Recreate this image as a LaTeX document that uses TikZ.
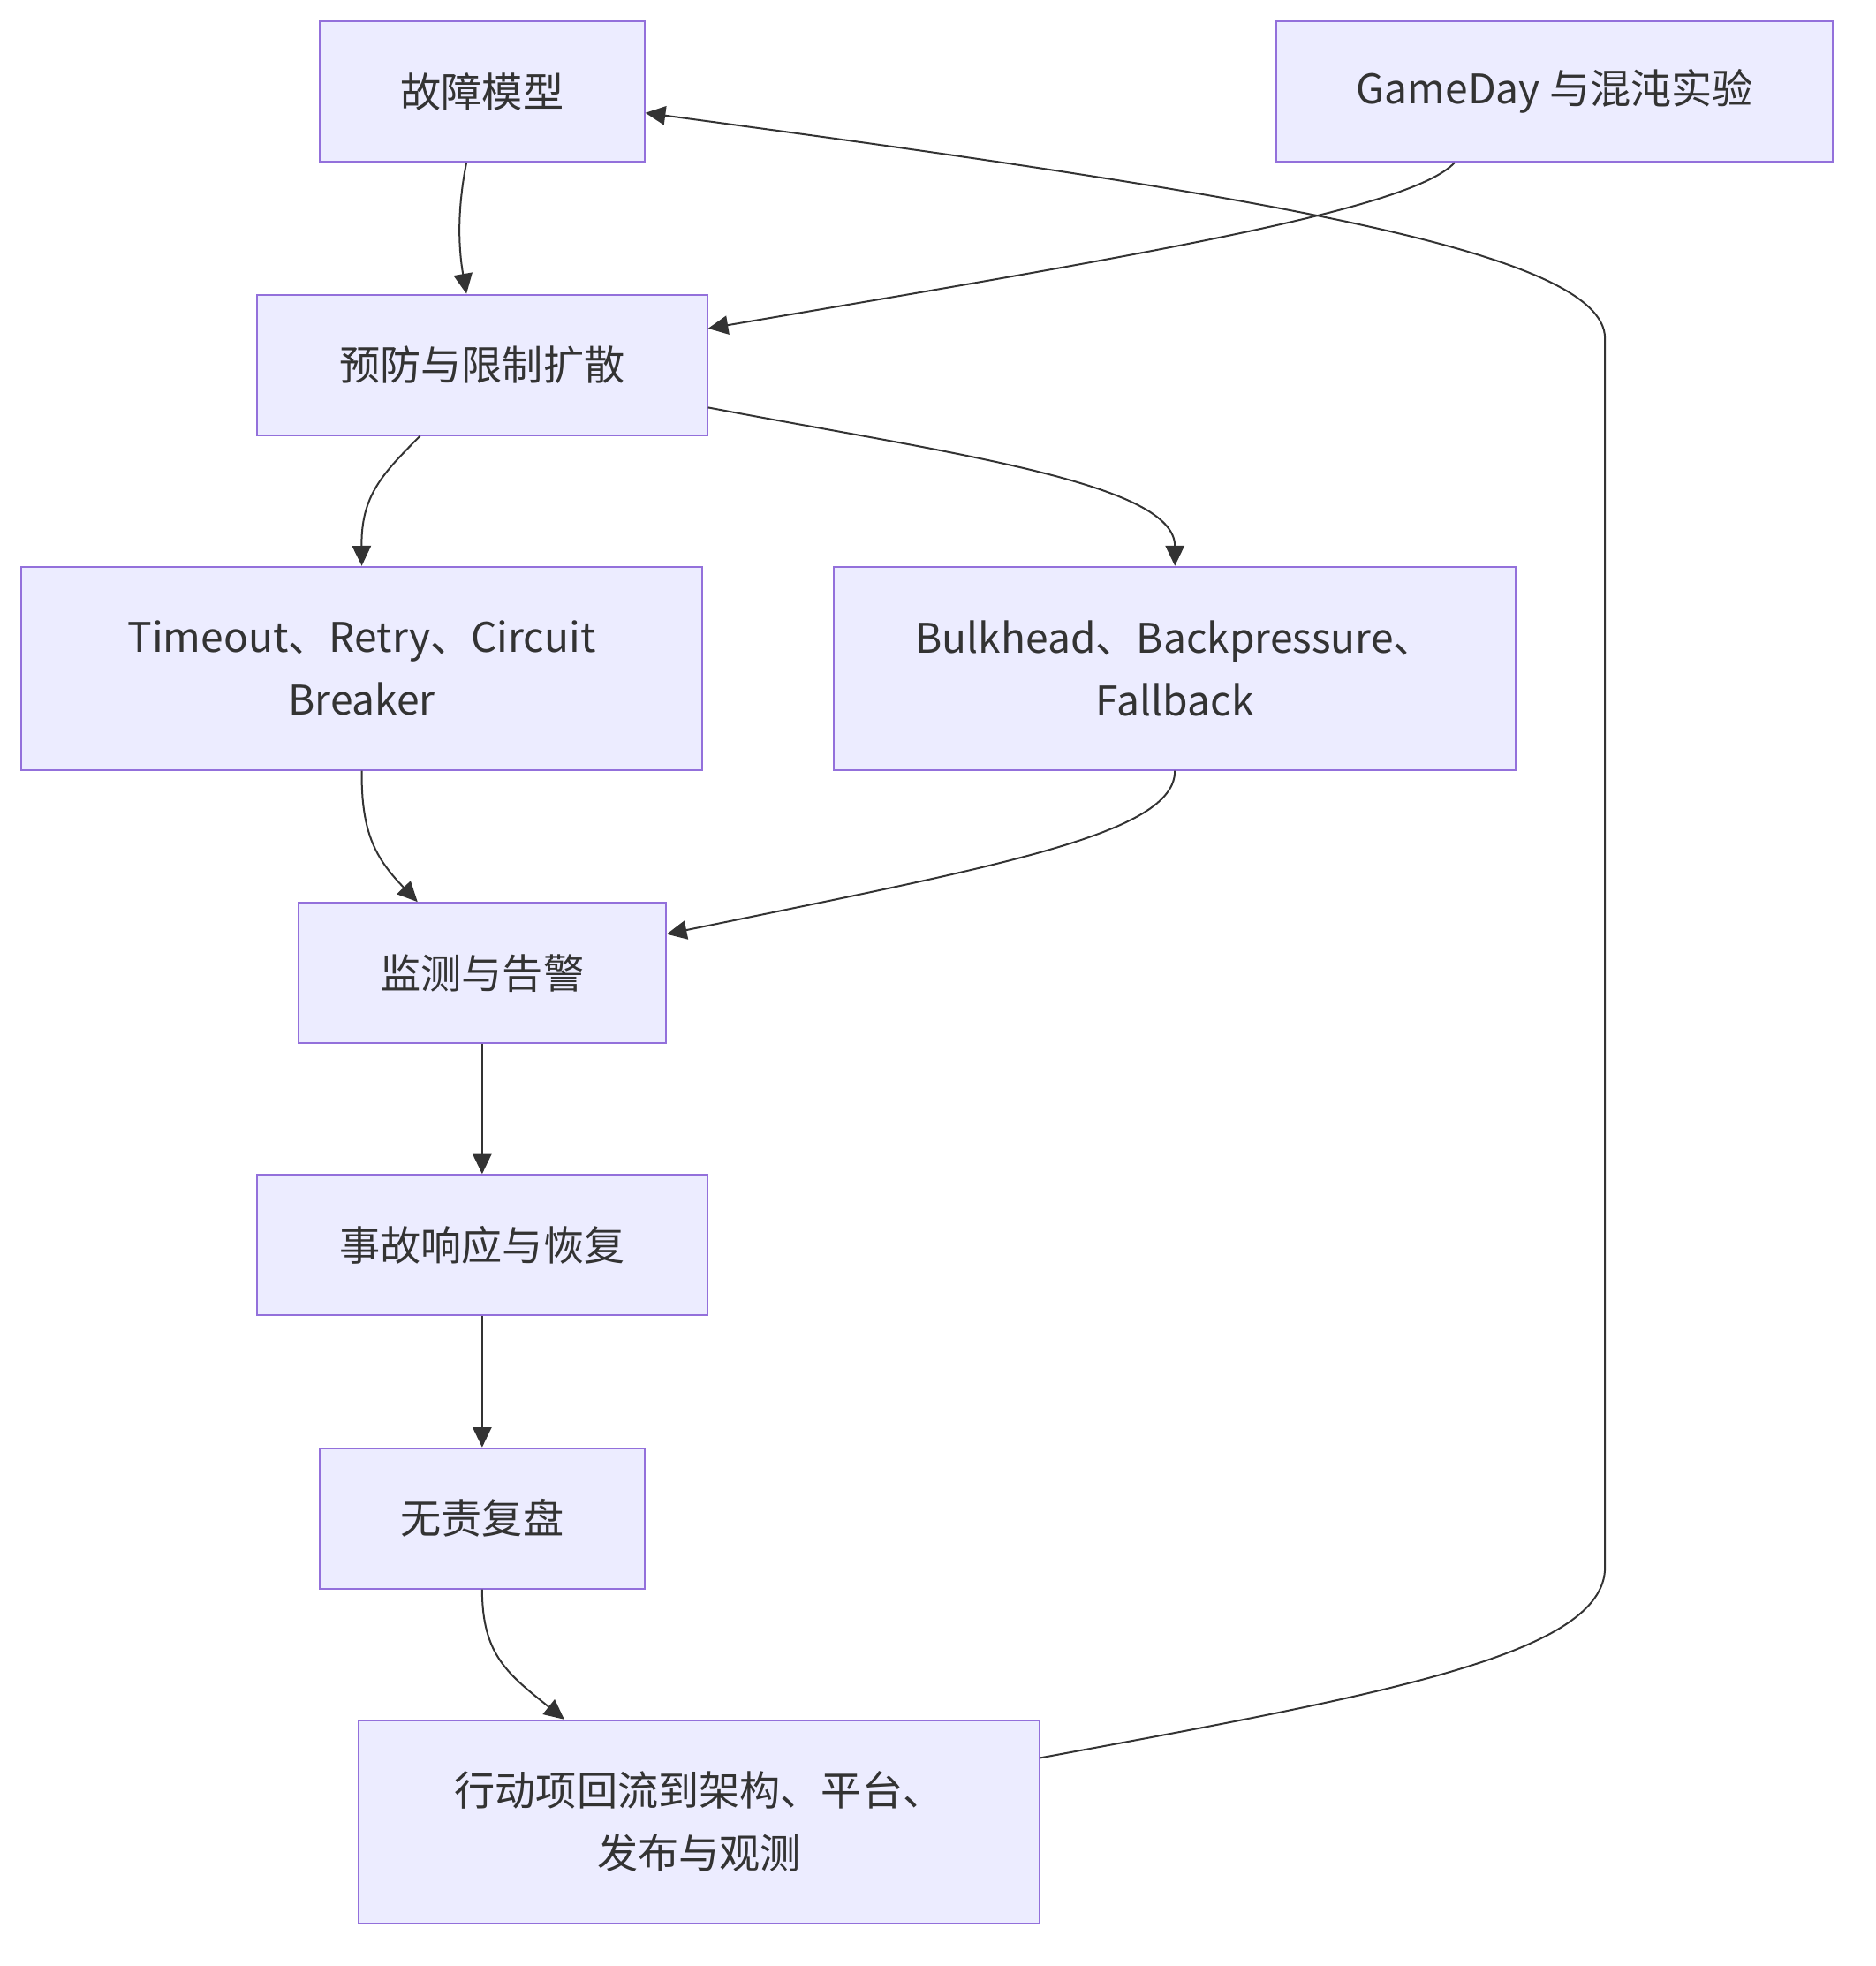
\documentclass[tikz,border=0pt]{standalone}
\usepackage{fontspec}
\setmainfont{Noto Sans CJK SC}
\usetikzlibrary{arrows.meta}
\definecolor{boxfill}{HTML}{ECECFF}
\definecolor{boxline}{HTML}{9370DB}
\definecolor{ink}{HTML}{333333}

\begin{document}
\begin{tikzpicture}[
  x=0.02cm, y=-0.02cm,
  font=\fontsize{18.5}{28.5}\selectfont,
  box/.style={draw=boxline, fill=boxfill, line width=0.8pt, inner sep=0pt,
              align=center, text=ink, minimum height=2.24cm},
  tall/.style={box, minimum height=3.24cm},
  edge/.style={draw=ink, line width=0.8pt,
               -{Triangle[length=0.32cm, width=0.3cm]}},
]
  \useasboundingbox (0,0) rectangle (1496,1568);

  % boxes, top to bottom
  \node[box, minimum width=5.18cm] (fault) at (384.5,73) {故障模型};
  \node[box, minimum width=8.88cm] (gameday) at (1240,73) {GameDay 与混沌实验};
  \node[box, minimum width=7.18cm] (prevent) at (384.5,291) {预防与限制扩散};
  \node[tall, minimum width=10.86cm] (timeout) at (288.5,533)
    {Timeout、Retry、Circuit\\Breaker};
  \node[tall, minimum width=10.88cm] (bulk) at (937,533)
    {Bulkhead、Backpressure、\\Fallback};
  \node[box, minimum width=5.86cm] (monitor) at (384.5,776) {监测与告警};
  \node[box, minimum width=7.18cm] (respond) at (384.5,993) {事故响应与恢复};
  \node[box, minimum width=5.18cm] (review) at (384.5,1211) {无责复盘};
  \node[tall, minimum width=10.86cm] (action) at (557.5,1453)
    {行动项回流到架构、平台、\\发布与观测};

  % bends of the feedback loop
  \coordinate (loopdown) at (1280,1250);
  \coordinate (loopup) at (1280,270);

  \draw[edge] ([xshift=-0.25cm]fault.south) .. controls (364,170) and (366,200)
    .. ([xshift=-0.25cm]prevent.north);
  \draw[edge] ([xshift=-1.6cm]gameday.south) .. controls (1125,168) and (900,205)
    .. ([yshift=0.58cm]prevent.east);
  \draw[edge] ([xshift=-0.99cm]prevent.south) .. controls (305,378) and (288,395)
    .. (timeout.north);
  \draw[edge] ([yshift=-0.68cm]prevent.east) .. controls (760,362) and (937,385)
    .. (bulk.north);
  \draw[edge] (timeout.south) .. controls (288,665) and (300,685)
    .. ([xshift=-1.03cm]monitor.north);
  \draw[edge] (bulk.south) .. controls (937,665) and (800,690)
    .. ([yshift=0.62cm]monitor.east);
  \draw[edge] (monitor) -- (respond);
  \draw[edge] (respond) -- (review);
  \draw[edge] (review.south) .. controls (384.5,1320) and (405,1335)
    .. ([xshift=-2.15cm]action.north);
  \draw[edge] ([yshift=1.02cm]action.east) .. controls (1100,1352) and (1280,1320)
    .. (loopdown) -- (loopup) .. controls (1280,200) and (1000,155)
    .. ([yshift=-0.34cm]fault.east);
\end{tikzpicture}
\end{document}
